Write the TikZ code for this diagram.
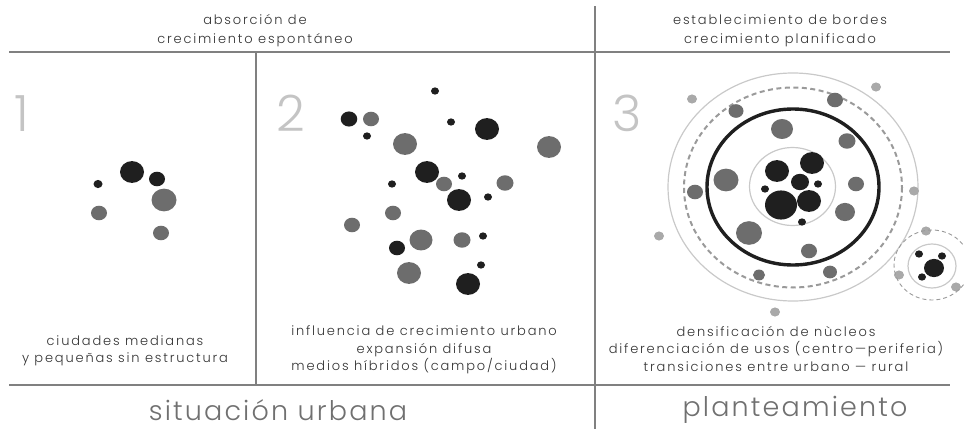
\documentclass[tikz,border=0pt]{standalone}
\usepackage{fontspec}
\IfFontExistsTF{Poppins Light}
    {\setmainfont{Poppins Light}[LetterSpace=14]
     \newfontfamily\titlefont{Poppins Light}[LetterSpace=8]}
    {\setmainfont{Poppins}[LetterSpace=14]
     \newfontfamily\titlefont{Poppins}[LetterSpace=8]}
\definecolor{dotblack}{HTML}{1F1F1F}
\definecolor{dotgray}{HTML}{6D6D6D}
\definecolor{dotlight}{HTML}{A9A9A9}
\definecolor{ringlight}{HTML}{C9C9C9}
\definecolor{dashgray}{HTML}{9A9A9A}
\definecolor{linegray}{HTML}{808080}
\definecolor{textgray}{HTML}{333333}
\definecolor{numgray}{HTML}{C4C4C4}
\definecolor{titlegray}{HTML}{707070}
\newcommand\sq{0.91}
\tikzset{
    frame/.style={linegray, line width=1.6pt},
    head/.style={text=textgray, align=center, font=\fontsize{13}{19}\selectfont},
    caption/.style={text=textgray, align=center, font=\fontsize{13}{17.5}\selectfont},
    num/.style={text=numgray, font=\titlefont\fontsize{50}{50}\selectfont, anchor=base},
    title/.style={text=titlegray, font=\titlefont\fontsize{27}{30}\selectfont},
    ring/.style={ringlight, line width=1.2pt},
}
\begin{document}
\begin{tikzpicture}[x=1pt,y=-1pt]
    \useasboundingbox (0,0) rectangle (964,431);
    % frame
    \draw[frame] (9,52) -- (950,52);
    \draw[frame] (9,385) -- (950,385);
    \draw[frame] (595,6) -- (595,429);
    \draw[frame] (256,52) -- (256,384);
    % headings
    \node[head] (hleft) at (255,31) {absorción de\\crecimiento espontáneo};
    \node[head] (hright) at (780,31) {establecimiento de bordes\\crecimiento planificado};
    \node[num] (n1) at (22,131) {1};
    \node[num] (n2) at (291,131) {2};
    \node[num] (n3) at (627,131) {3};
    % panel 1
    \begin{scope}
        \foreach \x/\y/\r in {132/172/12, 157/179/8, 98/184/4.5}
            \fill[dotblack] (\x,\y) ellipse ({\r} and {\sq*\r});
        \foreach \x/\y/\r in {164/200/12.5, 99/213/8, 161/233/8}
            \fill[dotgray] (\x,\y) ellipse ({\r} and {\sq*\r});
    \end{scope}
    % panel 2
    \begin{scope}
        \foreach \x/\y/\r in {435/91/4, 349/119/8.3, 367/136/4, 451/122/4,
                487/129/12, 427/172/12, 462/176/4, 392/184/4, 459/200/12,
                488/197/4, 483/236/4, 397/248/8, 481/265/4, 468/284/12}
            \fill[dotblack] (\x,\y) ellipse ({\r} and {\sq*\r});
        \foreach \x/\y/\r in {371/119/8, 405/144/12, 549/147/12, 444/184/8,
                505/183/8.5, 393/213/8, 352/225/8, 421/240/11.5, 462/240/8.5,
                409/273/12}
            \fill[dotgray] (\x,\y) ellipse ({\r} and {\sq*\r});
    \end{scope}
    % panel 3
    \begin{scope}
        \draw[ring] (793,187) ellipse (125 and 114);
        \draw[dashgray, line width=2pt, dash pattern=on 5pt off 3.5pt] (793,187.5) ellipse (109 and 100);
        \draw[dotblack, line width=3.4pt] (793,187) ellipse (86 and 78);
        \draw[ring] (792.5,186.5) ellipse (43 and 39);
        \foreach \x/\y/\r in {777/171/12, 812/163/12, 800/182/9, 765/189/4,
                818/184/4, 781/205/16, 809/201/12, 802/222/4}
            \fill[dotblack] (\x,\y) ellipse ({\r} and {\sq*\r});
        \foreach \x/\y/\r in {782/129/11, 847/141/8.5, 726/180/12.5, 856/184/8,
                845/212/10, 749/233/13, 809/251/8, 736/111/7.5, 835/100/8,
                695/192/8, 759/275/6, 830/272/7}
            \fill[dotgray] (\x,\y) ellipse ({\r} and {\sq*\r});
        \foreach \x/\y in {692/99, 876/87, 914/191, 659/236, 775/312,
                926/231, 899/275, 956/287}
            \fill[dotlight] (\x,\y) ellipse (5 and {\sq*5});
        % satellite
        \draw[dashgray, line width=0.9pt, dash pattern=on 4pt off 3pt] (932,265) ellipse (38 and 35);
        \draw[ring] (932,266) ellipse (24 and 22);
        \foreach \x/\y/\r in {934/268/10, 919/254/4, 942/256/4, 922/277/4}
            \fill[dotblack] (\x,\y) ellipse ({\r} and {\sq*\r});
    \end{scope}
    % captions
    \node[caption] (c1) at (125,351) {ciudades medianas\\y pequeñas sin estructura};
    \node[caption] (c2) at (424,350) {influencia de crecimiento urbano\\expansión difusa\\medios híbridos (campo/ciudad)};
    \node[caption] (c3) at (776,349) {densificación de nùcleos\\diferenciación de usos (centro—periferia)\\transiciones entre urbano — rural};
    \node[title] (t1) at (278,410) {situación urbana};
    \node[title] (t2) at (795,410) {planteamiento};
\end{tikzpicture}
\end{document}
